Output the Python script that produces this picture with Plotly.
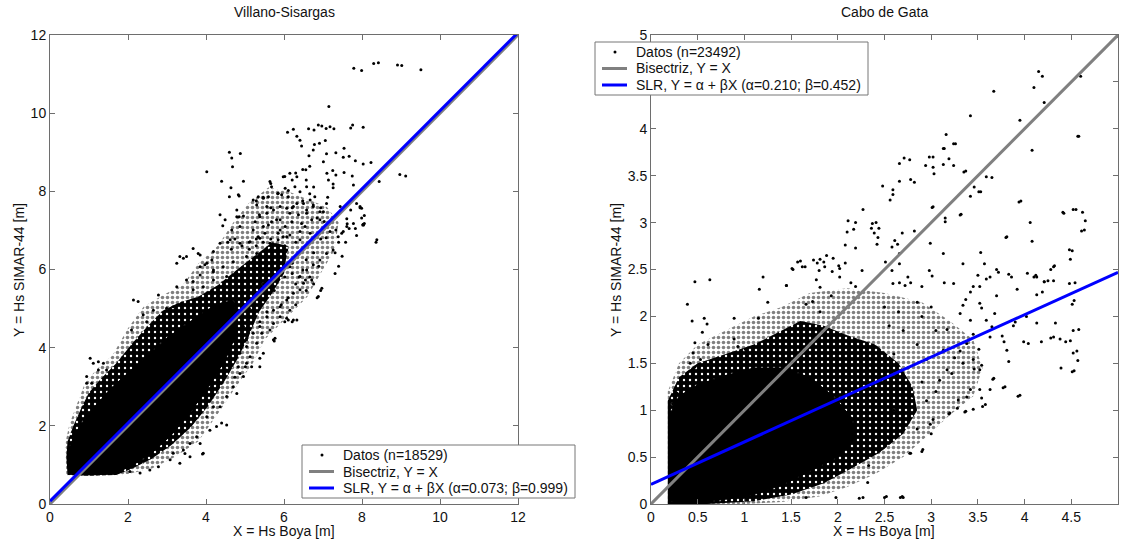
import plotly.graph_objects as go

FONT = "Arial, 'Liberation Sans', Helvetica, sans-serif"

# ---------------- Villano-Sisargas (left panel) ----------------
villano_title = "Villano-Sisargas"
villano_n = 18529
villano_alpha = 0.073
villano_beta = 0.999
villano_ticks = [0, 2, 4, 6, 8, 10, 12]

# envelope of the solid-black core of the cloud
villano_core_x = [0.50, 0.46, 0.50, 0.65, 0.90, 1.20, 1.55, 2.00, 2.50, 3.00, 3.50, 4.00, 4.40, 4.70,
                  4.80, 4.50, 4.10, 3.60, 3.10, 2.60, 2.10, 1.70, 1.20, 0.80]
villano_core_y = [0.76, 1.05, 1.45, 1.80, 2.20, 2.55, 2.95, 3.35, 3.80, 4.25, 4.60, 4.95, 5.15, 5.20,
                  4.40, 3.70, 3.05, 2.35, 1.75, 1.30, 0.98, 0.80, 0.75, 0.74]
# envelope of the dense speckled zone
villano_mid_x = [0.45, 0.42, 0.45, 0.60, 0.80, 1.00, 1.30, 1.70, 2.10, 2.50, 2.90, 3.30, 3.80, 4.30, 4.80,
                 5.30, 5.70, 6.10, 6.00, 5.70, 5.35, 5.10, 4.80, 4.45, 4.05, 3.60, 3.10, 2.60, 2.10,
                 1.70, 1.00]
villano_mid_y = [0.74, 1.20, 1.60, 2.00, 2.45, 2.85, 3.20, 3.60, 4.10, 4.55, 4.95, 5.15, 5.30, 5.60, 6.00,
                 6.40, 6.70, 6.60, 5.90, 5.40, 4.90, 4.30, 3.70, 3.10, 2.50, 1.95, 1.50, 1.15, 0.90,
                 0.74, 0.72]
# envelope of the sparser halo
villano_halo_x = [0.42, 0.38, 0.50, 0.70, 0.90, 1.20, 1.60, 2.00, 2.40, 2.90, 3.40, 3.80, 4.30, 4.70, 5.10,
                  5.60, 6.10, 6.60, 7.10, 7.40, 7.30, 7.00, 6.60, 6.00, 5.50, 5.20, 4.70, 4.30, 3.80, 3.20,
                  2.60, 1.80]
villano_halo_y = [0.72, 1.50, 2.05, 2.60, 3.10, 3.45, 3.80, 4.50, 5.05, 5.35, 5.60, 6.15, 6.60, 7.20, 7.70,
                  8.10, 8.00, 7.80, 7.60, 7.20, 6.50, 6.00, 5.30, 4.70, 4.20, 3.60, 2.90, 2.30, 1.60, 1.20,
                  0.90, 0.72]

# individually visible points
villano_pts = [
    (7.79, 11.15), (7.99, 11.09), (8.30, 11.27), (8.42, 11.29), (8.91, 11.23), (9.02, 11.22), (9.51, 11.11),
    (7.15, 10.17),
    (6.09, 9.51), (6.24, 9.59), (6.33, 9.41), (6.41, 9.31), (6.45, 9.16), (6.63, 9.60), (6.77, 9.57),
    (6.88, 9.70), (6.97, 9.67), (7.08, 9.61), (7.18, 9.65), (7.28, 9.60), (7.71, 9.62), (7.76, 9.70),
    (8.03, 9.64), (6.78, 9.20), (6.91, 9.23), (7.06, 9.30), (6.75, 9.06), (6.64, 8.91), (7.09, 8.96),
    (7.33, 8.99), (7.54, 9.10), (7.52, 8.87), (7.67, 8.90), (7.83, 8.78), (8.03, 8.70), (8.23, 8.74),
    (4.60, 9.00), (4.66, 8.85), (4.88, 8.97), (4.68, 8.63), (4.02, 8.50), (4.40, 8.26), (4.96, 8.26),
    (4.64, 8.09), (4.60, 7.86), (4.85, 7.88),
    (8.97, 8.43), (9.12, 8.39), (8.44, 8.25), (7.10, 8.46), (7.33, 8.42), (7.14, 8.29), (7.26, 8.19),
    (7.54, 8.48), (7.75, 8.39), (7.78, 8.16), (7.26, 8.09), (7.01, 8.76), (6.56, 8.55), (7.25, 8.53),
    (7.86, 7.69), (7.95, 7.61), (8.06, 7.38), (8.03, 7.16), (7.61, 7.30), (7.62, 7.17), (7.83, 7.05),
    (7.71, 7.52), (7.33, 7.01), (7.48, 6.93), (7.08, 6.81), (7.18, 6.97),
    (5.21, 7.78), (5.34, 7.86), (5.47, 7.82), (5.60, 7.86), (5.68, 8.12), (5.64, 8.25), (5.85, 7.95),
    (5.94, 7.91), (6.03, 8.08), (6.11, 7.86), (5.98, 8.37), (6.15, 8.46), (6.33, 8.37), (6.28, 8.12),
    (6.41, 7.99), (6.58, 8.12), (6.67, 7.78), (6.79, 7.86), (6.50, 7.69), (6.24, 7.61), (6.07, 7.57),
    (5.90, 7.61), (5.73, 7.52), (5.56, 7.44), (5.38, 7.35), (5.26, 7.22), (5.47, 7.10), (5.68, 7.22),
    (5.90, 7.27), (6.03, 7.10), (6.20, 7.22), (6.37, 7.40), (6.58, 7.44), (6.75, 7.61), (6.92, 7.27),
    (7.01, 7.48), (5.85, 6.93), (5.98, 6.84), (6.15, 6.88), (6.41, 6.97), (5.21, 7.01), (5.34, 6.84),
    (6.54, 7.10), (4.49, 7.27), (4.79, 7.35), (4.87, 7.10), (4.66, 7.01), (4.83, 7.91),
    (4.36, 7.40), (4.43, 7.12), (4.79, 7.52), (4.85, 7.35), (4.96, 7.37), (5.30, 7.65), (5.37, 7.40),
    (5.56, 7.61), (5.60, 7.14), (5.51, 6.93), (5.81, 7.27), (5.90, 7.01), (6.15, 7.44), (6.33, 7.69),
    (6.45, 7.18), (6.58, 7.52), (6.75, 7.65), (6.71, 7.27), (6.92, 7.48), (7.09, 7.69), (7.22, 7.27),
    (7.44, 7.61), (7.99, 7.57), (8.02, 7.14), (8.38, 6.76),
    (3.67, 6.54), (3.42, 6.29), (3.85, 6.37), (3.97, 6.12), (4.15, 6.24), (4.19, 6.46), (4.36, 6.67),
    (4.62, 6.76), (4.87, 6.67), (5.13, 6.71), (5.38, 6.80), (5.64, 6.67), (5.85, 6.76), (6.07, 6.84),
    (6.41, 6.76), (6.67, 6.93), (6.97, 6.97),
    (4.44, 6.07), (4.70, 6.20), (5.04, 6.33), (5.30, 6.41), (5.56, 6.33), (5.81, 6.46), (6.07, 6.50),
    (3.85, 5.86), (4.19, 5.94), (3.67, 5.69), (3.93, 5.56), (4.19, 5.73), (4.53, 5.82), (4.79, 5.90),
    (5.04, 5.99), (5.30, 6.03), (5.56, 6.12), (5.90, 6.16), (6.15, 6.07), (6.41, 5.82), (6.58, 5.99),
    (6.75, 6.12), (6.92, 6.24), (7.09, 6.41), (7.26, 6.50), (7.39, 6.84), (7.52, 6.97), (7.61, 7.10),
    (7.78, 7.18), (8.06, 7.18),
    (6.97, 5.52), (6.88, 5.31), (6.24, 4.71), (6.33, 4.71), (5.77, 4.24), (6.71, 5.73), (6.50, 5.65),
    (6.41, 5.48), (6.24, 5.39), (6.07, 5.22), (5.90, 5.05), (5.73, 4.96), (6.15, 4.96), (5.47, 5.22),
    (5.56, 4.79), (5.38, 4.54), (5.21, 4.37), (5.30, 4.11), (5.04, 4.03), (5.47, 3.86), (5.38, 3.73),
    (5.04, 3.60), (5.17, 3.51), (4.83, 3.51), (5.38, 3.51), (5.04, 4.24), (4.96, 4.54), (5.73, 4.62),
    (5.90, 4.79), (6.07, 4.75), (6.55, 5.73),
    (1.03, 3.73), (1.11, 3.60), (1.24, 3.64), (1.37, 3.60), (0.94, 3.26), (0.94, 3.09), (1.07, 3.09),
    (1.24, 3.43), (1.45, 3.43), (0.90, 2.58),
    (2.14, 5.22), (2.26, 5.18), (2.78, 5.35), (3.25, 6.16), (3.33, 6.33), (3.50, 6.33), (3.80, 6.41),
    (2.39, 4.84), (2.48, 4.66), (2.09, 4.45), (2.31, 4.24), (2.65, 4.96), (2.99, 5.01), (3.16, 5.05),
    (3.25, 5.56), (3.50, 5.73), (3.67, 5.48), (3.85, 6.07), (4.02, 6.16), (4.19, 5.99),
    (4.87, 3.34), (4.96, 3.26), (4.70, 3.00), (4.53, 3.43), (5.73, 4.20), (6.11, 4.71), (5.13, 3.77),
    (5.43, 4.37), (5.64, 4.45),
    (4.40, 2.07), (4.53, 2.02), (4.27, 1.98), (3.93, 1.30), (3.85, 1.55), (3.59, 1.55), (4.19, 2.49),
    (3.76, 1.72), (3.42, 1.38), (3.16, 1.30), (3.08, 1.13), (2.78, 0.95), (2.56, 0.87), (2.31, 0.79),
    (2.05, 0.83), (3.33, 1.04), (3.59, 1.21), (4.10, 1.89), (4.02, 2.23), (4.36, 2.49), (4.53, 2.75),
    (4.79, 2.83), (4.19, 3.09), (4.87, 3.86), (5.04, 4.20), (3.91, 1.28), (3.46, 1.29),
    (5.75, 4.17), (5.01, 3.51), (4.74, 3.24), (6.02, 4.66), (6.21, 4.66), (6.30, 5.10), (6.30, 5.63),
    (6.66, 5.81), (6.85, 5.28), (6.94, 5.46), (7.31, 5.90), (7.40, 6.08), (7.49, 6.34), (7.31, 6.43),
    (7.58, 6.70), (7.40, 6.70), (6.94, 6.78), (7.67, 7.05), (7.86, 6.87), (8.04, 7.14), (7.99, 7.32),
    (7.95, 7.58), (8.36, 6.70), (6.48, 5.99), (6.57, 6.25), (6.76, 6.43), (6.89, 6.08), (6.21, 6.16),
    (6.02, 5.81), (5.84, 5.72), (5.66, 5.99), (5.47, 5.63), (5.29, 5.28), (5.11, 5.01), (4.92, 4.92),
    (5.56, 4.92), (5.38, 4.66), (5.11, 4.48), (5.93, 5.10), (5.75, 5.46), (6.11, 5.28), (5.66, 6.52),
    (5.29, 6.78), (5.11, 6.70), (4.92, 6.61), (4.65, 6.52), (4.56, 6.70), (4.74, 6.78), (5.11, 6.52),
    (5.29, 6.61), (5.47, 6.70), (5.66, 6.78), (6.30, 6.70), (6.02, 6.61), (6.02, 6.34), (5.84, 6.16),
    (6.76, 5.63), (6.57, 5.46), (6.39, 5.81), (6.21, 5.90),
    (5.29, 7.76), (5.47, 7.85), (5.66, 7.58), (5.84, 7.94), (6.11, 8.02), (6.21, 7.58), (6.48, 7.76),
    (6.66, 7.94), (5.66, 8.20), (6.02, 8.38), (6.30, 8.47), (6.21, 8.29), (6.48, 8.56), (6.66, 8.64),
    (6.57, 8.29), (6.76, 8.11), (6.94, 7.58), (7.12, 7.85), (7.03, 7.23), (6.85, 7.32),
]
villano_x = [p[0] for p in villano_pts]
villano_y = [p[1] for p in villano_pts]

# ---------------- Cabo de Gata (right panel) ----------------
gata_title = "Cabo de Gata"
gata_n = 23492
gata_alpha = 0.210
gata_beta = 0.452
gata_ticks = [0, 0.5, 1, 1.5, 2, 2.5, 3, 3.5, 4, 4.5, 5]
# the 4.5 label sits under the legend box in the original
gata_ticktext = ["0", "0.5", "1", "1.5", "2", "2.5", "3", "3.5", "4", "", "5"]
gata_xticktext = ["0", "0.5", "1", "1.5", "2", "2.5", "3", "3.5", "4", "4.5", "5"]

gata_core_x = [0.20, 0.20, 0.30, 0.50, 0.80, 1.10, 1.40, 1.70, 1.95, 2.15, 2.20, 2.00, 1.70, 1.40,
               1.10, 0.80, 0.50, 0.30]
gata_core_y = [0.03, 0.95, 1.15, 1.27, 1.37, 1.45, 1.45, 1.35, 1.15, 0.92, 0.70, 0.50, 0.35, 0.20,
               0.10, 0.05, 0.01, 0.01]
gata_mid_x = [0.18, 0.18, 0.30, 0.50, 0.80, 1.10, 1.40, 1.60, 1.85, 2.10, 2.40, 2.65, 2.80, 2.85,
              2.70, 2.45, 2.15, 1.85, 1.50, 1.10, 0.60]
gata_mid_y = [0.00, 1.10, 1.35, 1.50, 1.60, 1.70, 1.85, 1.95, 1.90, 1.80, 1.70, 1.50, 1.25, 1.00,
              0.75, 0.55, 0.38, 0.22, 0.10, 0.03, 0.00]
gata_halo_x = [0.18, 0.18, 0.30, 0.50, 0.80, 1.10, 1.40, 1.70, 2.10, 2.50, 2.90, 3.20, 3.45, 3.55,
               3.45, 3.20, 2.95, 2.70, 2.40, 2.10, 1.80, 1.40, 1.00]
gata_halo_y = [0.00, 1.20, 1.50, 1.70, 1.85, 2.00, 2.10, 2.25, 2.30, 2.25, 2.15, 1.95, 1.75, 1.45,
               1.15, 0.95, 0.72, 0.50, 0.32, 0.18, 0.08, 0.02, 0.00]

gata_pts = [
    (4.15, 4.61), (4.19, 4.56), (4.60, 4.56), (4.10, 4.44), (4.21, 4.28), (3.67, 4.40), (3.95, 4.09),
    (3.42, 4.14), (4.57, 3.92), (4.08, 3.77), (3.16, 3.94), (3.13, 3.79), (3.26, 3.84), (3.19, 3.68),
    (3.24, 3.61), (3.37, 3.55), (2.98, 3.70), (3.02, 3.70), (2.94, 3.61), (3.02, 3.59), (3.03, 3.52),
    (2.66, 3.63), (2.71, 3.69), (2.77, 3.67), (2.66, 3.44), (2.78, 3.46), (2.82, 3.43), (2.48, 3.39),
    (2.59, 3.35), (2.59, 3.30), (2.56, 3.24), (3.02, 3.17), (2.27, 3.14), (2.11, 3.02), (2.19, 3.00),
    (2.10, 2.90), (2.17, 2.93), (2.08, 2.76), (2.19, 2.73), (2.37, 2.99), (2.41, 3.00), (2.36, 2.94),
    (2.39, 2.89), (2.43, 2.84), (2.42, 2.77), (2.44, 2.94), (2.69, 2.89), (2.82, 2.91), (2.61, 2.81),
    (2.64, 2.77), (2.58, 2.74), (2.66, 2.67), (2.99, 2.78), (3.15, 3.05), (3.15, 3.01), (3.32, 3.09),
    (3.46, 3.38), (3.51, 3.33), (3.53, 3.33), (3.59, 3.49), (3.65, 3.48), (3.42, 3.28), (3.96, 3.23),
    (3.81, 2.85), (4.06, 3.00), (4.08, 2.80), (4.41, 3.11), (4.55, 3.14), (4.62, 3.11), (4.65, 3.02),
    (4.64, 2.92), (4.51, 2.70), (4.49, 2.61), (4.32, 2.54), (4.28, 2.50),
    (1.52, 2.50), (1.60, 2.59), (1.65, 2.53), (1.74, 2.60), (1.78, 2.57), (1.81, 2.61), (1.85, 2.58),
    (1.88, 2.65), (1.95, 2.62), (1.86, 2.53), (1.80, 2.49), (1.94, 2.48), (2.01, 2.54), (2.02, 2.51),
    (2.08, 2.57), (1.77, 2.39), (2.26, 2.49), (2.51, 2.58), (2.58, 2.49), (2.66, 2.56), (2.59, 2.35),
    (2.66, 2.36), (2.75, 2.42), (2.72, 2.33), (2.78, 2.36), (2.90, 2.32), (2.98, 2.49), (3.01, 2.43),
    (3.13, 2.67), (3.14, 2.36), (3.24, 2.35), (3.34, 2.56), (3.45, 2.32), (3.50, 2.44), (3.53, 2.68),
    (3.57, 2.56), (3.59, 2.40), (3.63, 2.42), (3.70, 2.50), (3.72, 2.47), (3.83, 2.45), (3.86, 2.42),
    (4.03, 2.46), (4.12, 2.44), (4.13, 2.42), (4.21, 2.37), (4.25, 2.38), (4.48, 2.35), (1.45, 2.33),
    (2.14, 2.36), (2.19, 2.32),
    (4.58, 1.86), (4.56, 1.63), (4.57, 1.53), (4.53, 1.42), (4.39, 1.45), (4.49, 1.74), (4.44, 1.73),
    (4.38, 1.76), (4.31, 1.78), (4.28, 1.77), (4.33, 1.93), (4.18, 1.73), (4.13, 2.23), (4.19, 2.26),
    (4.21, 2.37), (4.53, 2.17), (4.54, 2.36), (4.13, 1.93), (4.02, 2.00), (4.04, 1.71), (3.95, 1.16),
    (3.99, 1.73), (3.92, 2.29), (3.81, 1.64), (3.83, 1.52), (3.79, 1.25), (3.70, 2.22), (3.68, 2.03),
    (3.65, 1.89), (3.63, 1.78), (3.88, 1.90), (3.90, 1.94), (3.52, 2.32), (3.52, 2.14), (3.54, 2.09),
    (3.59, 1.96), (3.51, 1.65), (3.67, 1.34), (3.63, 1.22), (3.52, 1.22), (3.54, 1.13), (3.58, 1.06),
    (3.38, 1.14), (3.42, 1.22), (3.37, 0.99), (3.28, 1.02), (3.29, 1.11), (3.20, 0.97), (3.02, 0.90),
    (3.00, 0.75), (2.91, 0.58), (2.78, 0.54), (2.69, 0.08), (2.52, 0.08), (3.76, 1.79), (3.78, 1.73),
    (3.42, 2.26), (3.37, 2.18), (3.34, 2.12), (3.31, 2.03), (3.42, 1.96), (3.45, 1.81), (3.38, 1.71),
    (3.31, 1.63), (3.25, 1.56), (3.34, 1.50), (3.45, 1.54), (3.46, 1.44), (3.52, 1.43), (3.17, 1.86),
    (3.17, 1.43), (3.09, 1.32), (3.22, 1.39), (2.95, 1.54), (3.13, 1.64),
    (4.58, 3.92), (3.94, 3.22), (4.42, 3.10), (4.52, 3.14), (4.61, 2.91), (3.80, 2.84), (4.48, 2.71),
    (4.31, 2.53), (4.10, 2.42), (4.31, 2.38), (4.51, 2.13), (4.52, 1.85), (4.52, 1.61), (4.51, 1.41),
    (3.93, 1.15), (3.77, 1.24), (3.54, 1.48), (3.66, 1.33), (3.55, 1.04), (3.45, 1.01), (3.36, 0.98),
    (3.19, 0.96), (2.99, 0.85), (2.77, 0.54), (2.90, 0.56), (2.70, 0.07), (2.67, 0.07), (2.50, 0.07),
    (2.27, 0.07), (2.23, 0.06), (1.98, 0.07), (1.66, 0.07), (2.32, 0.23), (2.33, 0.41), (3.35, 3.54),
    (3.13, 3.62), (3.01, 3.16), (3.31, 3.08), (3.14, 3.79), (3.24, 3.84),
    (0.47, 2.37), (0.63, 2.39), (0.39, 2.13), (0.44, 1.95), (0.57, 1.98), (0.60, 1.92), (0.55, 1.83),
    (0.61, 1.70), (0.47, 1.72), (0.45, 1.61), (0.42, 1.50), (0.47, 1.46), (0.53, 1.54), (0.28, 1.18),
    (0.23, 1.07), (0.89, 1.98), (0.89, 1.76), (0.93, 1.68), (1.01, 1.65), (1.12, 1.61), (1.16, 2.29),
    (1.20, 2.42), (1.25, 2.15), (1.15, 1.98), (1.31, 1.68), (1.45, 2.33), (1.51, 2.51), (1.57, 2.58),
    (1.62, 2.53), (1.73, 2.16), (1.81, 2.31), (1.93, 2.22), (2.02, 2.42), (1.81, 2.05), (1.66, 2.13),
    (2.55, 1.90), (2.70, 1.85), (2.85, 1.70), (2.60, 1.60), (2.75, 1.45), (2.90, 1.30), (2.80, 1.15),
    (2.95, 1.10), (3.05, 1.20), (2.65, 2.05), (2.90, 2.00), (3.05, 1.85), (2.85, 2.15), (3.00, 2.10),
    (2.50, 2.10), (2.70, 0.95), (2.85, 0.80), (2.55, 0.70), (2.60, 1.00),
]
gata_x = [p[0] for p in gata_pts]
gata_y = [p[1] for p in gata_pts]

x_label = "X = Hs Boya [m]"
y_label = "Y = Hs SIMAR-44 [m]"
bis_label = "Bisectriz, Y = X"

W, H = 1121, 541
GRAY = "#808080"
BLUE = "#0000ff"
fig = go.Figure()


def add_panel(xa, ya, halo_x, halo_y, mid_x, mid_y, core_x, core_y, px, py, alpha, beta, xmax):
    # sparse halo of the cloud: black speckles
    fig.add_trace(go.Scatter(
        x=halo_x, y=halo_y, xaxis=xa, yaxis=ya, mode="lines", fill="toself",
        fillcolor="rgba(0,0,0,0)", line=dict(width=0),
        fillpattern=dict(shape=".", fgcolor="black", bgcolor="rgba(0,0,0,0)",
                         size=5, solidity=0.4, fillmode="overlay"),
        hoverinfo="skip"))
    # dense zone: black with small white gaps
    fig.add_trace(go.Scatter(
        x=mid_x, y=mid_y, xaxis=xa, yaxis=ya, mode="lines", fill="toself",
        fillcolor="black", line=dict(width=0),
        fillpattern=dict(shape=".", fgcolor="white", bgcolor="black",
                         size=6, solidity=0.12, fillmode="replace"),
        hoverinfo="skip"))
    # saturated core
    fig.add_trace(go.Scatter(
        x=core_x, y=core_y, xaxis=xa, yaxis=ya, mode="lines", fill="toself",
        fillcolor="black", line=dict(width=1, color="black"), hoverinfo="skip"))
    # points
    fig.add_trace(go.Scatter(
        x=px, y=py, xaxis=xa, yaxis=ya, mode="markers",
        marker=dict(size=3, color="black", line=dict(width=0)), name="Datos"))
    # bisectriz
    fig.add_trace(go.Scatter(
        x=[0, xmax], y=[0, xmax], xaxis=xa, yaxis=ya, mode="lines",
        line=dict(color=GRAY, width=3), name=bis_label))
    # SLR
    sx = [0, xmax]
    sy = [alpha + beta * v for v in sx]
    fig.add_trace(go.Scatter(
        x=sx, y=sy, xaxis=xa, yaxis=ya, mode="lines",
        line=dict(color=BLUE, width=3), name="SLR"))


add_panel("x", "y", villano_halo_x, villano_halo_y, villano_mid_x, villano_mid_y,
          villano_core_x, villano_core_y, villano_x, villano_y, villano_alpha, villano_beta, 12)
add_panel("x2", "y2", gata_halo_x, gata_halo_y, gata_mid_x, gata_mid_y,
          gata_core_x, gata_core_y, gata_x, gata_y, gata_alpha, gata_beta, 5)

AX = "#6e6e6e"
common = dict(showgrid=False, zeroline=False, showline=True, linecolor=AX, linewidth=1,
              mirror="ticks", ticks="inside", ticklen=5, tickcolor=AX, automargin=False,
              tickfont=dict(size=14, family=FONT, color="#111"))

ydom = [1 - 504 / H, 1 - 35 / H]
fig.update_layout(
    width=W, height=H, margin=dict(l=0, r=0, t=0, b=0, autoexpand=False),
    paper_bgcolor="white", plot_bgcolor="white", showlegend=False,
    font=dict(family=FONT, size=14, color="#111"),
    xaxis=dict(domain=[50 / W, 518 / W], range=[0, 12], tickvals=villano_ticks, anchor="y", **common),
    yaxis=dict(domain=ydom, range=[0, 12], tickvals=villano_ticks, anchor="x", **common),
    xaxis2=dict(domain=[651 / W, 1118 / W], range=[0, 5], tickvals=gata_ticks,
                ticktext=gata_xticktext, anchor="y2", **common),
    yaxis2=dict(domain=ydom, range=[0, 5], tickvals=gata_ticks, ticktext=gata_ticktext,
                anchor="x2", **common),
)


def px_x(v):
    return v / W


def px_y(v):
    return 1 - v / H


def add_legend(box, n, alpha, beta):
    x0, y0, x1, y1 = box
    rows = [y0 + 10, y0 + 26.5, y0 + 43]
    fig.add_shape(type="rect", xref="paper", yref="paper", layer="above",
                  x0=px_x(x0), x1=px_x(x1), y0=px_y(y0), y1=px_y(y1),
                  fillcolor="white", line=dict(color="#777", width=1))
    cx = x0 + 20
    fig.add_shape(type="circle", xref="paper", yref="paper", layer="above",
                  x0=px_x(cx - 1.5), x1=px_x(cx + 1.5), y0=px_y(rows[0] - 1.5), y1=px_y(rows[0] + 1.5),
                  fillcolor="black", line=dict(width=0))
    for r, col in ((rows[1], GRAY), (rows[2], BLUE)):
        fig.add_shape(type="line", xref="paper", yref="paper", layer="above",
                      x0=px_x(x0 + 7), x1=px_x(x0 + 32), y0=px_y(r), y1=px_y(r),
                      line=dict(color=col, width=3))
    texts = [f"Datos (n={n})", bis_label,
             f"SLR, Y = α + βX (α={alpha:.3f}; β={beta:.3f})"]
    for r, t in zip(rows, texts):
        fig.add_annotation(xref="paper", yref="paper", x=px_x(x0 + 39), y=px_y(r), text=t,
                           showarrow=False, xanchor="left", yanchor="middle",
                           font=dict(size=14, family=FONT, color="#111"))


add_legend((302, 445, 575, 498), villano_n, villano_alpha, villano_beta)
add_legend((595, 42, 868, 95), gata_n, gata_alpha, gata_beta)

ann = [
    dict(text=villano_title, x=284 / W, y=1 - 12 / H),
    dict(text=gata_title, x=884 / W, y=1 - 12 / H),
    dict(text=x_label, x=284 / W, y=1 - 531 / H),
    dict(text=x_label, x=884 / W, y=1 - 531 / H),
    dict(text=y_label, x=19 / W, y=1 - 270 / H, textangle=-90),
    dict(text=y_label, x=616 / W, y=1 - 270 / H, textangle=-90),
]
for a in ann:
    fig.add_annotation(xref="paper", yref="paper", showarrow=False, xanchor="center", yanchor="middle",
                       font=dict(size=14, family=FONT, color="#111"), **a)

fig.write_html("out.html", config={"displayModeBar": False},
               post_script="document.body.style.margin='0';document.body.style.overflow='hidden';")
